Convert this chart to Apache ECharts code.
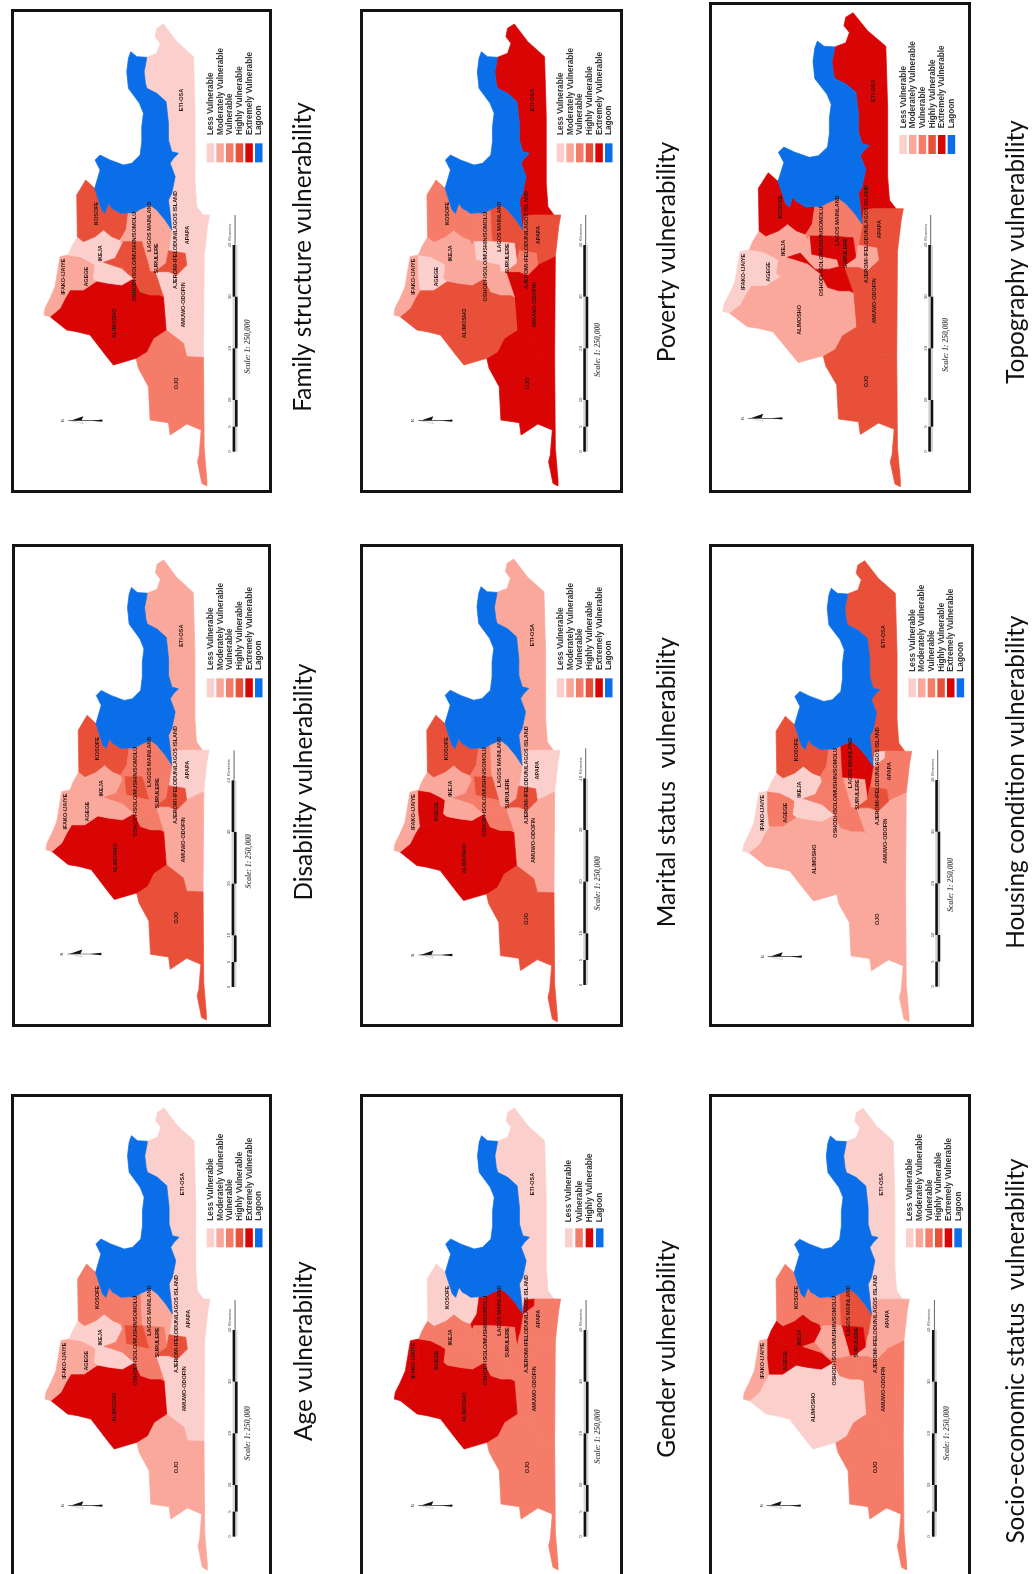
<!DOCTYPE html>
<html>
<head>
<meta charset="utf-8">
<style>html,body{margin:0;padding:0;background:#fff}#c{width:1034px;height:1574px;filter:blur(0.4px)}</style>
<script src="https://cdn.jsdelivr.net/npm/echarts@6/dist/echarts.min.js"></script>
</head>
<body>
<div id="c"></div>
<script>
// ---- Data ----
const districts = ['ETI-OSA','APAPA','LAGOS ISLAND','AMUWO-ODOFIN','OJO','ALIMOSHO','IFAKO-IJAIYE','AGEGE','IKEJA','KOSOFE','SOMOLU','LAGOS MAINLAND','SURULERE','MUSHIN','OSHODI-ISOLO','ISOLO','AJEROMI-IFELODUN','LAGOON'];
// vulnerability class per district: 1 Less, 2 Moderately, 3 Vulnerable, 4 Highly, 5 Extremely, 6 Lagoon
const familyStructure = [1,1,1,1,3,5,2,2,1,4,2,2,2,4,4,4,4,6];
const disability      = [2,1,1,2,4,5,2,2,2,4,3,3,3,4,3,3,4,6];
const ageClass        = [1,1,1,1,2,5,2,2,1,3,3,2,3,4,3,3,4,6];
const poverty         = [5,4,4,5,5,4,2,1,2,3,3,4,1,1,2,2,3,6];
const maritalStatus   = [2,1,1,2,4,5,2,5,2,4,3,2,2,4,3,3,4,6];
const gender          = [1,3,5,3,3,5,5,5,3,1,5,5,3,3,3,3,3,6];
const topography      = [5,4,4,4,4,2,1,1,2,5,3,3,5,5,2,5,2,6];
const housing         = [4,3,1,2,2,2,1,3,1,4,3,5,2,3,3,3,4,6];
const socioEconomic   = [1,2,2,3,3,1,2,5,5,3,3,4,5,2,2,3,2,6];
const classColors = ['#fbd0cc','#fba89c','#f47c68','#e9503a','#d90404','#0a6ee8'];
const legendFull = ['Less Vulnerable','Moderately Vulnerable','Vulnerable','Highly Vulnerable','Extremely Vulnerable','Lagoon'];
const legendFullClasses = [1,2,3,4,5,6];
const legendGender = ['Less Vulnerable','Vulnerable','Highly Vulnerable','Lagoon'];
const legendGenderClasses = [1,3,5,6];
const scaleTicks = ['0','5','10','20','30','40','Kilometers'];
const scaleText = 'Scale: 1: 250,000';

// ---- District outlines (map units, y downward, negated for the geo projection) ----
const outlines = {
 'ETI-OSA':[[470,85],[490,72],[530,125],[580,170],[585,350],[585,550],[590,620],[608,645],[548,645],[520,648],[515,690],[510,640],[505,600],[515,580],[525,530],[510,490],[520,475],[535,460],[515,455],[505,420],[505,370],[498,305],[470,280],[440,265],[436,250],[432,215],[437,190],[440,172],[470,160],[480,130],[465,110]],
 'APAPA':[[548,645],[628,645],[622,680],[612,770],[560,795],[555,760],[505,752],[515,690],[548,665]],
 'LAGOS ISLAND':[[520,648],[548,645],[548,665],[515,690]],
 'AMUWO-ODOFIN':[[560,795],[612,770],[610,1072],[560,1070],[550,1030],[498,990],[490,890],[470,830],[465,815],[505,815],[530,825]],
 'OJO':[[498,990],[550,1030],[560,1070],[610,1072],[612,1345],[620,1440],[620,1458],[605,1450],[592,1385],[597,1365],[603,1290],[560,1272],[510,1305],[505,1268],[450,1260],[445,1160],[415,1105],[408,1075],[440,1055],[460,1015]],
 'ALIMOSHO':[[150,950],[180,925],[195,895],[210,870],[250,870],[290,843],[325,850],[365,855],[400,835],[420,875],[450,885],[480,885],[490,890],[498,990],[460,1015],[440,1055],[408,1075],[340,1095],[320,1070],[270,1005],[230,995],[200,990]],
 'IFAKO-IJAIYE':[[205,765],[205,825],[210,870],[195,895],[180,925],[150,950],[132,945],[135,925],[150,895],[165,860],[175,800],[180,770]],
 'AGEGE':[[205,765],[240,770],[270,785],[285,795],[280,835],[290,843],[250,870],[210,870],[205,825]],
 'IKEJA':[[232,710],[250,725],[285,710],[310,690],[335,710],[360,720],[365,735],[345,775],[310,787],[365,805],[400,835],[365,855],[325,850],[290,843],[280,835],[285,795],[270,785],[240,770],[205,765],[215,740]],
 'KOSOFE':[[257,540],[284,565],[305,630],[315,640],[325,610],[335,625],[345,630],[360,640],[385,638],[378,690],[360,720],[335,710],[310,690],[285,710],[250,725],[232,710],[230,585]],
 'SOMOLU':[[385,638],[400,640],[420,628],[425,725],[370,725],[365,735],[360,720],[378,690]],
 'LAGOS MAINLAND':[[420,628],[450,615],[470,630],[495,660],[515,690],[505,752],[498,790],[490,730],[425,725]],
 'SURULERE':[[425,725],[490,730],[498,790],[465,815],[450,815],[445,795]],
 'MUSHIN':[[370,725],[425,725],[445,795],[420,790],[375,780]],
 'OSHODI-ISOLO':[[365,735],[370,725],[375,780],[420,790],[445,795],[450,815],[425,822],[385,822],[345,775]],
 'ISOLO':[[310,787],[345,775],[385,822],[425,822],[450,815],[465,815],[470,830],[490,890],[480,885],[450,885],[420,875],[400,835],[365,805]],
 'AJEROMI-IFELODUN':[[505,752],[555,760],[560,795],[530,825],[505,815],[465,815],[498,790]],
 'LAGOON':[[392,155],[410,170],[440,172],[437,190],[432,215],[436,250],[440,265],[470,280],[498,305],[505,370],[505,420],[515,455],[535,460],[520,475],[510,490],[525,530],[515,580],[505,600],[510,640],[515,690],[495,660],[470,630],[450,615],[420,628],[400,640],[385,638],[360,640],[345,630],[335,625],[325,610],[315,640],[305,630],[284,565],[300,510],[285,480],[300,465],[330,480],[370,495],[395,490],[420,465],[425,425],[425,380],[430,340],[418,310],[385,265],[380,215],[385,175]]
};
// label text and anchor per district
const labelText = {'ETI-OSA':'ETI-OSA','APAPA':'APAPA','AMUWO-ODOFIN':'AMUWO-ODOFIN','OJO':'OJO','ALIMOSHO':'ALIMOSHO','IFAKO-IJAIYE':'IFAKO-IJAIYE','AGEGE':'AGEGE','IKEJA':'IKEJA','KOSOFE':'KOSOFE','LAGOS MAINLAND':'LAGOS MAINLAND','SURULERE':'SURULERE','OSHODI-ISOLO':'OSHODI-ISOLO/MUSHIN/SOMOLU','AJEROMI-IFELODUN':'AJEROMI-IFELODUN/LAGOS ISLAND'};
const labelAt = {'ETI-OSA':[545,300],'APAPA':[562,705],'AMUWO-ODOFIN':[550,915],'OJO':[528,1150],'ALIMOSHO':[342,970],'IFAKO-IJAIYE':[190,830],'AGEGE':[258,830],'IKEJA':[300,760],'KOSOFE':[290,640],'LAGOS MAINLAND':[447,680],'SURULERE':[470,775],'OSHODI-ISOLO':[403,770],'AJEROMI-IFELODUN':[527,720]};

const geojson = {type:'FeatureCollection',features:districts.map(n=>({
  type:'Feature',
  properties:Object.assign({name:n},labelAt[n]?{cp:[labelAt[n][0],-labelAt[n][1]]}:{}),
  geometry:{type:'Polygon',coordinates:[outlines[n].concat([outlines[n][0]]).map(p=>[p[0],-p[1]])]}
}))};

// ---- Panel layout: reference-crop origin (ox,oy) + positions in 1/3 px ----
const panels = [
 {title:'Family structure vulnerability',vals:familyStructure,ox:0,oy:0,frame:[11,9,272,493],box:[44,24,209.5,486],lg:[620,430,405],bar:[705,1355],sc:[745,1040],ar:[190,1262],tt:[303,257]},
 {title:'Disability vulnerability',vals:disability,ox:0,oy:530,frame:[12,544,271,1027],box:[46,560,209,1020],lg:[620,445,420],bar:[702,1371],sc:[747,994],ar:[187,1272],tt:[304,782]},
 {title:'Age vulnerability',vals:ageClass,ox:0,oy:1060,frame:[11,1094,272,1590],box:[45,1108,210,1570],lg:[620,505,482],bar:[705,1430],sc:[745,1120],ar:[190,1337],tt:[304,1351]},
 {title:'Poverty vulnerability',vals:poverty,ox:350,oy:0,frame:[360,9,623,493],box:[394,24,560.7,486],lg:[620,430,405],bar:[707,1355],sc:[745,1050],ar:[190,1262],tt:[667,252]},
 {title:'Marital status  vulnerability',vals:maritalStatus,ox:350,oy:530,frame:[360,544,623,1027],box:[394,559,560,1021.7],lg:[620,445,420],bar:[707,1365],sc:[745,1060],ar:[190,1275],tt:[667,782]},
 {title:'Gender vulnerability',vals:gender,ox:350,oy:1060,frame:[360,1094,623,1590],box:[394.3,1108,560.7,1570],lg:[645,505,487],bar:[708,1430],sc:[745,1130],ar:[190,1337],tt:[667,1349],gender:true},
 {title:'Topography vulnerability',vals:topography,ox:690,oy:0,frame:[709,2,971,493],box:[722.7,12.7,903.3,486.7],lg:[628,405,385],bar:[722,1355],sc:[768,1035],ar:[160,1255],tt:[1016,252]},
 {title:'Housing condition vulnerability',vals:housing,ox:690,oy:530,frame:[709,544,974,1027],box:[742.7,560.7,911.7,1021.7],lg:[655,445,425],bar:[743,1370],sc:[782,1065],ar:[218,1280],tt:[1016,782]},
 {title:'Socio-economic status  vulnerability',vals:socioEconomic,ox:690,oy:1060,frame:[709,1094,971,1590],box:[743.3,1108.3,909.3,1570],lg:[648,505,483],bar:[733,1430],sc:[770,1120],ar:[215,1337],tt:[1016,1351]}
];

let bx0=1e9,bx1=-1e9,by0=1e9,by1=-1e9;
Object.values(outlines).forEach(r=>r.forEach(p=>{bx0=Math.min(bx0,p[0]);bx1=Math.max(bx1,p[0]);by0=Math.min(by0,p[1]);by1=Math.max(by1,p[1]);}));
const srcAspect=(bx1-bx0)/(by1-by0);

const series=[],graphic=[];
const SANS='"Liberation Sans",Arial,sans-serif';
const rotText=(x,y,text,size,opts)=>graphic.push({type:'text',x,y,rotation:Math.PI/2,silent:true,z:20,
  style:Object.assign({text,fontSize:size,fontFamily:SANS,fill:'#222',align:'left',verticalAlign:'middle'},opts||{})});
const rect=(x,y,w,h,style,z)=>graphic.push({type:'rect',silent:true,z:z||10,shape:{x,y,width:w,height:h},style});

panels.forEach((p,pi)=>{
  const Zx=v=>p.ox+v/3, Zy=v=>p.oy+v/3;
  const [x0,y0,x1,y1]=p.box, w=x1-x0, h=y1-y0;
  // each panel needs its own map name: map series sharing a name are merged by ECharts
  echarts.registerMap('lagos'+pi,geojson);
  series.push({type:'map',map:'lagos'+pi,silent:true,roam:false,selectedMode:false,
    left:x0,top:y0,width:w,height:h,aspectScale:(w/h)/srcAspect,
    label:{show:true,rotate:90,fontSize:5.5,fontWeight:'bold',color:'#2b1515',fontFamily:SANS,
      formatter:o=>labelText[o.name]||''},
    emphasis:{disabled:true},
    data:districts.map((n,i)=>{const c=classColors[p.vals[i]-1];return {name:n,value:p.vals[i],itemStyle:{areaColor:c,borderColor:c,borderWidth:0.7}};})
  });
  // frame
  const [fx0,fy0,fx1,fy1]=p.frame;
  rect(fx0+1.5,fy0+1.5,fx1-fx0-3,fy1-fy0-3,{fill:'none',stroke:'#141414',lineWidth:3},5);
  // title
  rotText(p.tt[0],p.tt[1],p.title,24.4,{fontFamily:'Lato,sans-serif',fill:'#111',align:'center'});
  // legend
  const names=p.gender?legendGender:legendFull, cls=p.gender?legendGenderClasses:legendFullClasses;
  const pitch=p.gender?31:29;
  names.forEach((n,i)=>{
    const lx=p.lg[0]+i*pitch;
    rect(Zx(lx),Zy(p.lg[1]),7.5,19,{fill:classColors[cls[i]-1]});
    rotText(Zx(lx)+4,Zy(p.lg[2]),n,8.2,{fontWeight:'bold',fill:'#333'});
  });
  // scale bar
  const frac=[0,75,155,310,465,620,710];
  const bx=Zx(p.bar[0]), by=Zy(p.bar[1]);
  for(let i=0;i<frac.length-1;i++){
    const ya=by-frac[i]/3, yb=by-frac[i+1]/3;
    if(i===frac.length-2){ rect(bx-0.4,yb,0.9,ya-yb,{fill:'#555'}); }
    else { rect(bx-2.4+(i%2?2.4:0),yb,2.6,ya-yb,{fill:'#111'}); rect(bx-2.4+(i%2?0:2.4),yb,2.4,ya-yb,{fill:'#d4d4d4'},9); }
  }
  scaleTicks.forEach((t,i)=>{
    if(i===6) return;
    rotText(bx-5,by-frac[i]/3,t,4.2,{align:'center',fill:'#444'});
  });
  graphic.push({type:'text',x:bx-5,y:by-frac[5]/3-4,rotation:Math.PI/2,silent:true,z:20,style:{text:scaleTicks[6],fontSize:3.6,fontFamily:SANS,fill:'#444',align:'left',verticalAlign:'middle'}});
  // scale text
  graphic.push({type:'text',x:Zx(p.sc[0]),y:Zy(p.sc[1]),rotation:Math.PI/2,silent:true,z:20,
    style:{text:scaleText,fontSize:7.6,fontStyle:'italic',fontWeight:'bold',fontFamily:'"Liberation Serif",serif',fill:'#555',align:'center',verticalAlign:'middle'}});
  // north arrow
  const ax=Zx(p.ar[0]), ay=Zy(p.ar[1]);
  graphic.push({type:'text',x:ax,y:ay,rotation:Math.PI/2,silent:true,z:20,style:{text:'N',fontSize:4,fontFamily:SANS,fill:'#222',align:'center',verticalAlign:'middle'}});
  rect(ax+5,ay-0.35,34,0.7,{fill:'#333'});
  graphic.push({type:'polygon',silent:true,z:11,shape:{points:[[ax+7,ay],[ax+20,ay-4.5],[ax+18,ay]]},style:{fill:'#111'}});
  graphic.push({type:'polygon',silent:true,z:11,shape:{points:[[ax+7,ay],[ax+20,ay+3],[ax+18,ay]]},style:{fill:'none',stroke:'#999',lineWidth:0.4}});
  graphic.push({type:'polygon',silent:true,z:11,shape:{points:[[ax+28,ay],[ax+39,ay-1.2],[ax+39,ay+1.2]]},style:{fill:'#111'}});
});

const chart=echarts.init(document.getElementById('c'),null,{renderer:'canvas',width:1034,height:1574});
chart.setOption({animation:false,backgroundColor:'#fff',series,graphic});
</script>
</body>
</html>
